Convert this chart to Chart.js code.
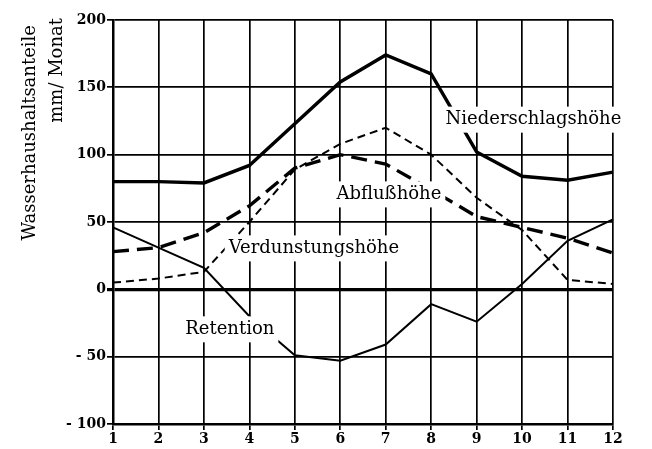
<!DOCTYPE html>
<html>
<head>
<meta charset="utf-8">
<script src="https://cdn.jsdelivr.net/npm/chart.js@4"></script>
<style>
  html, body { margin: 0; padding: 0; background: #fff; }
  #wrap { width: 652px; height: 449px; }
</style>
</head>
<body>
<div id="wrap"><canvas id="myChart" width="652" height="449"></canvas></div>
<script>
// monthly values, mm / Monat
const months = ['1', '2', '3', '4', '5', '6', '7', '8', '9', '10', '11', '12'];
const niederschlag = [80, 80, 79, 92, 123, 154, 174, 160, 102, 84, 81, 87];
const abfluss = [28, 31, 42, 62, 90, 100, 93, 74, 54, 46, 38, 27];
const verdunstung = [5, 8, 13, 50, 89, 108, 120, 100, 68, 44, 7, 4];
const retention = [46, 31, 16, -20, -49, -53, -41, -11, -24, 4, 36, 52];
const yTicks = [-100, -50, 0, 50, 100, 150, 200];

const titleLines = ['Wasserhaushaltsanteile', 'mm/ Monat'];

// curve labels: [text, month, value]
const curveLabels = [
  ['Niederschlagshöhe', 10.25, 126],
  ['Abflußhöhe', 7.07, 70.5],
  ['Verdunstungshöhe', 5.42, 30.4],
  ['Retention', 3.57, -29.7]
];

const serif = '"DejaVu Serif", "Liberation Serif", serif';

const labelPlugin = {
  id: 'curveLabels',
  afterDatasetsDraw(chart) {
    const c = chart.ctx;
    const xs = chart.scales.x, ys = chart.scales.y;
    const x0 = xs.getPixelForValue(0), x1 = xs.getPixelForValue(months.length - 1);
    c.save();
    c.font = '18px ' + serif;
    c.textAlign = 'center';
    c.textBaseline = 'middle';
    curveLabels.forEach(l => {
      const px = x0 + (l[1] - 1) * (x1 - x0) / (months.length - 1);
      const py = ys.getPixelForValue(l[2]);
      const w = c.measureText(l[0]).width;
      c.fillStyle = '#fff';
      c.fillRect(px - w / 2 - 4, py - 13, w + 8, 26);
      c.fillStyle = '#000';
      c.fillText(l[0], px, py);
    });
    c.restore();
  },
  afterDraw(chart) {
    const c = chart.ctx;
    const top = chart.chartArea.top;
    c.save();
    c.font = '18px ' + serif;
    c.fillStyle = '#000';
    c.textAlign = 'right';
    c.textBaseline = 'middle';
    const pos = [[30, top + 5], [57, top - 2]];
    titleLines.forEach((t, i) => {
      c.save();
      c.translate(pos[i][0], pos[i][1]);
      c.rotate(-Math.PI / 2);
      c.fillText(t, 0, 0);
      c.restore();
    });
    c.restore();
  }
};

const ctx = document.getElementById('myChart');

new Chart(ctx, {
  type: 'line',
  data: {
    labels: months,
    datasets: [
      { label: 'Niederschlagshöhe', data: niederschlag, borderColor: '#000', borderWidth: 3.4 },
      { label: 'Abflußhöhe', data: abfluss, borderColor: '#000', borderWidth: 3.4, borderDash: [16, 8] },
      { label: 'Verdunstungshöhe', data: verdunstung, borderColor: '#000', borderWidth: 2, borderDash: [8, 5] },
      { label: 'Retention', data: retention, borderColor: '#000', borderWidth: 2 }
    ]
  },
  options: {
    responsive: false,
    animation: false,
    layout: { padding: { top: 20, right: 39, left: 0, bottom: 0 } },
    elements: { point: { radius: 0 }, line: { tension: 0, fill: false } },
    plugins: { legend: { display: false }, tooltip: { enabled: false } },
    scales: {
      x: {
        afterFit: s => { s.height = 25; },
        grid: { color: '#000', lineWidth: 1.7, tickLength: 6, drawTicks: true },
        border: { display: true, color: '#000', width: 2.5 },
        ticks: { color: '#000', padding: 1, maxRotation: 0, font: { family: serif, size: 14, weight: 'bold' } }
      },
      y: {
        min: -100,
        max: 200,
        afterFit: s => { s.width = 113; },
        afterBuildTicks: s => { s.ticks = yTicks.map(v => ({ value: v })); },
        grid: {
          color: '#000',
          lineWidth: c => (c.tick && c.tick.value === 0 ? 3.2 : 1.7),
          tickLength: 6
        },
        border: { display: true, color: '#000', width: 2.5 },
        ticks: {
          color: '#000',
          padding: 1,
          font: { family: serif, size: 14, weight: 'bold' },
          callback: v => (v < 0 ? '- ' + (-v) : '' + v)
        }
      }
    }
  },
  plugins: [labelPlugin]
});
</script>
</body>
</html>
